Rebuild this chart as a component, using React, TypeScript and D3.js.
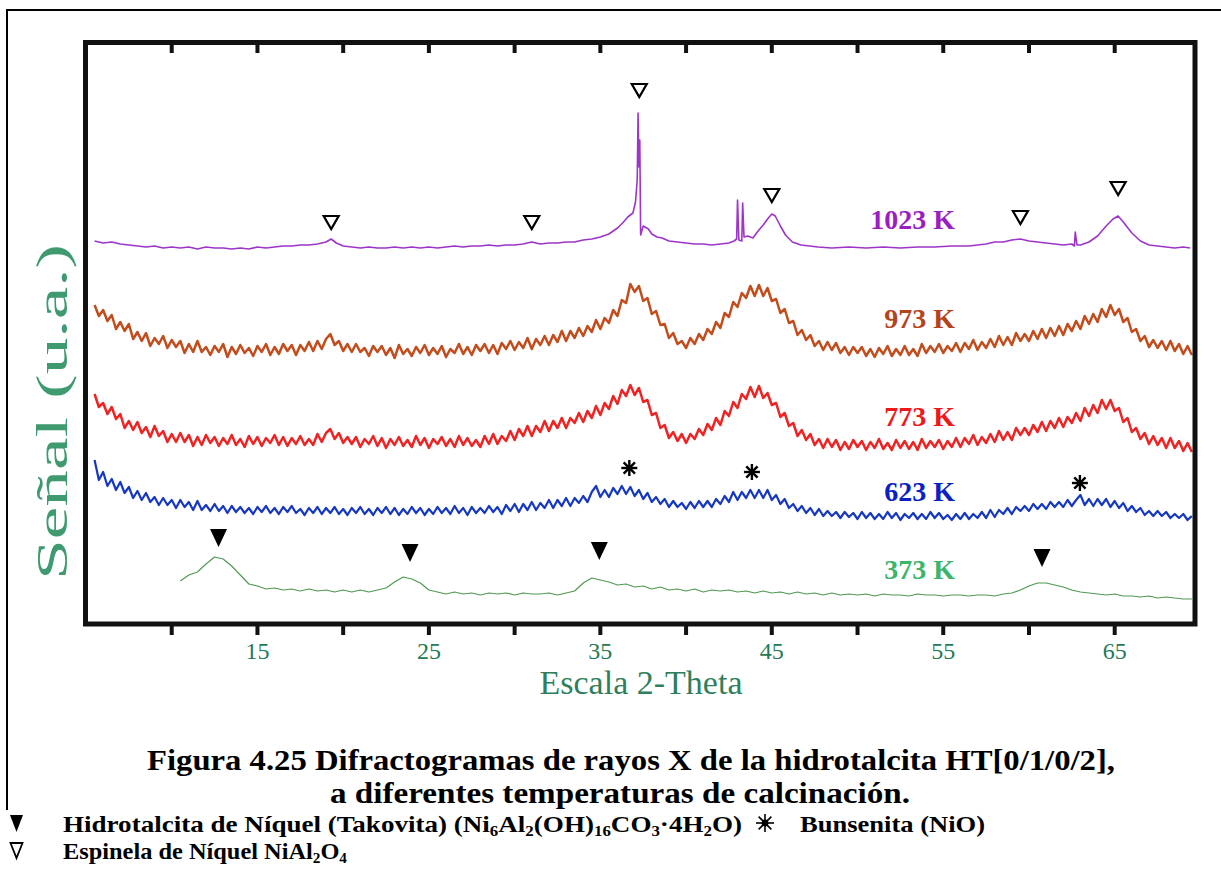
import React from "react";
import * as d3 from "d3";

const W = 1221;
const H = 870;

// 2-theta axis
const xDomain: [number, number] = [5, 69.8];
const xTicks = [10, 15, 20, 25, 30, 35, 40, 45, 50, 55, 60, 65];
const xTickLabels = [15, 25, 35, 45, 55, 65];
const yDomain: [number, number] = [0, 587];

// noisy series sampled every 0.25 deg from 5.5 deg
const NOISY_START = 5.5;
const NOISY_STEP = 0.25;

const s973 = [
  322,311,317,306,312,298,305,296,303,288,295,286,294,281,289,283,291,279,287,280,
  286,274,283,275,286,275,280,272,281,275,283,270,280,273,282,274,279,271,281,275,
  283,272,280,273,283,276,282,272,282,276,285,276,286,278,288,293,282,286,276,283,
  275,283,275,279,271,281,275,281,272,279,269,282,273,278,271,280,274,282,272,279,
  273,281,270,278,274,283,273,280,272,282,276,283,274,282,273,284,278,286,277,285,
  279,289,278,288,282,291,282,292,285,296,286,296,289,299,291,301,295,307,298,309,
  304,317,311,327,324,343,335,341,326,329,313,316,302,303,289,294,283,286,279,289,
  283,293,287,298,293,305,299,314,310,325,320,334,329,341,331,342,331,339,326,328,
  314,318,304,306,292,297,287,292,281,286,277,285,277,284,274,280,272,280,274,280,
  271,278,270,279,273,281,271,278,272,281,272,278,271,283,274,281,275,283,274,281,
  276,284,275,284,278,287,277,285,279,288,280,291,282,290,282,294,286,293,286,296,
  288,298,289,299,291,301,292,303,296,306,298,311,303,313,305,318,310,322,312,318,
  305,309,295,298,286,291,280,287,279,286,277,286,276,283,273,281,272,
];

const s773 = [
  233,220,224,213,220,208,213,199,206,197,205,194,200,190,201,191,196,185,193,185,
  194,185,192,181,190,182,192,184,190,181,189,183,192,182,188,180,191,183,190,181,
  189,184,192,182,190,181,189,183,191,182,188,182,193,185,194,198,188,194,184,190,
  183,190,180,188,183,191,181,189,179,188,182,190,181,187,180,191,182,189,179,188,
  183,190,181,188,180,191,182,189,181,187,180,191,183,193,183,191,186,196,187,198,
  191,201,191,201,195,206,196,206,199,209,199,209,204,214,205,216,209,221,212,224,
  218,231,223,237,231,242,232,239,225,227,212,214,199,202,189,195,186,193,184,193,
  188,198,192,203,197,209,202,216,211,225,219,233,228,240,230,241,229,234,222,224,
  210,214,201,204,191,197,187,193,182,188,179,188,180,187,177,185,178,187,180,186,
  177,185,179,188,178,184,177,187,179,186,178,185,177,188,179,186,180,187,178,186,
  180,189,180,189,183,192,182,190,184,193,185,196,187,195,187,199,192,199,192,202,
  195,205,196,206,199,209,200,210,204,214,206,219,211,222,214,227,218,227,216,219,
  205,209,195,199,188,194,183,191,182,189,179,189,179,186,176,184,175,
];

const s623 = [
  167,147,155,141,148,137,145,134,140,129,136,127,134,125,130,122,129,122,127,119,
  127,120,125,117,126,117,122,116,123,116,121,114,121,115,120,114,119,113,120,115,
  121,114,119,113,120,115,121,114,118,112,119,114,120,113,119,114,120,113,118,112,
  119,114,120,113,118,112,119,114,120,113,119,112,118,113,120,114,119,112,118,113,
  120,114,119,113,121,114,119,112,120,114,119,114,121,115,120,113,122,116,123,115,
  123,117,125,117,124,119,127,119,127,121,129,121,129,124,131,125,135,141,130,137,
  130,139,133,141,133,140,131,137,128,134,125,130,123,128,120,126,120,124,118,125,
  119,126,120,126,120,128,123,131,125,135,127,135,129,137,129,137,129,137,127,132,
  123,128,119,123,116,121,114,119,112,118,111,116,111,115,109,115,110,114,108,115,
  109,114,108,113,108,115,109,114,107,113,109,114,108,113,108,115,109,114,108,112,
  107,113,108,114,108,113,109,115,109,117,110,117,113,119,113,120,116,121,116,123,
  118,123,118,125,120,125,120,127,121,127,132,122,128,121,128,122,128,120,126,119,
  124,116,121,115,119,112,116,111,116,111,115,109,113,109,113,107,111,
];

// 373 K sampled every 0.5 deg from 10.5 deg
const S373_START = 10.5;
const S373_STEP = 0.5;
const s373 = [
  46,52,55,63,70,68,61,52,43,41,
  38,39,37,38,36,38,36,37,35,37,
  35,37,35,37,39,45,50,48,44,37,
  35,33,35,33,34,32,34,33,34,32,
  34,33,33,34,32,34,36,44,49,47,
  45,42,43,40,41,38,40,37,38,36,
  38,35,37,36,37,35,36,34,36,34,
  35,33,35,33,34,32,34,32,33,32,
  33,31,33,32,32,31,33,32,32,31,
  32,32,31,32,32,31,33,34,37,41,
  44,44,42,40,37,35,34,33,32,33,
  31,31,30,31,29,30,29,28,28,
];

// 1023 K: [2theta, intensity]
const s1023: [number, number][] = [
  [5.5,386],[6,384],[6.5,385],[7,383],[7.5,382],[8,381],[8.5,380],[9,381],[9.5,379],[10,380],
  [10.5,379],[11,380],[11.5,378],[12,380],[12.5,379],[13,379],[13.5,378],[14,379],[14.5,378],[15,380],
  [15.5,379],[16,380],[16.5,381],[17,381],[17.5,382],[18,382],[18.5,383],[19,385],[19.3,388],[19.6,384],
  [20,381],[20.5,380],[21,379],[21.5,380],[22,379],[22.5,379],[23,380],[23.5,379],[24,380],[24.5,379],
  [25,380],[25.5,379],[26,380],[26.5,381],[27,380],[27.5,381],[28,381],[28.5,382],[29,381],[29.5,382],
  [30,382],[30.5,383],[31,385],[31.5,383],[32,384],[32.5,384],[33,385],[33.5,385],[34,387],[34.5,388],
  [35,390],[35.5,393],[36,399],[36.3,404],[36.6,410],[36.9,414],[37.05,425],[37.15,447],[37.2,514],[37.25,460],
  [37.3,487],[37.35,392],[37.5,401],[37.8,398],[38,393],[38.3,390],[38.6,389],[39,386],[39.5,385],[40,384],
  [40.5,383],[41,383],[41.5,382],[42,383],[42.5,384],[42.8,386],[42.95,388],[43.0,427],[43.08,387],[43.25,386],
  [43.3,424],[43.38,390],[43.6,391],[43.9,389],[44.2,396],[44.5,402],[44.8,409],[45.0,413],[45.2,411],[45.5,401],
  [45.8,392],[46.2,385],[46.7,382],[47.2,381],[47.7,380],[48.5,379],[49.5,380],[50.5,379],[51.5,380],[52.5,379],
  [53.5,380],[54.5,380],[55.5,381],[56.5,381],[57,382],[57.5,383],[58,385],[58.5,385],[59,387],[59.5,388],
  [60,386],[60.5,385],[61,384],[61.5,383],[62,382],[62.5,383],[62.65,381],[62.7,395],[62.8,382],[63,382],
  [63.5,385],[64,391],[64.5,401],[64.9,408],[65.2,411],[65.5,405],[66,394],[66.5,386],[67,382],[67.5,381],
  [68,380],[68.5,379],[69,380],[69.4,379],
];

// phase markers [2theta, intensity]
const spinelMarks: [number, number][] = [[19.3,405],[31.0,405],[37.27,537],[45.0,432],[59.5,410],[65.2,439]];
const nioMarks: [number, number][] = [[36.69,159],[43.84,155],[62.97,144]];
const htMarks: [number, number][] = [[12.73,89],[23.9,74],[34.94,76],[60.76,69]];

const labels = ["1023 K", "973 K", "773 K", "623 K", "373 K"];
const labelColors = ["#9a1fc2", "#b4441c", "#ee1a1a", "#0b1fc4", "#3db46c"];
const lineColors = ["#9d35c8", "#c24c1c", "#ee2424", "#1638c0", "#4f9a52"];
const labelBaselines = [229, 328, 426, 501, 579];

const AXIS_GREEN = "#237a55";
const SERIF = "'Liberation Serif', 'Times New Roman', serif";

function Star({ cx, cy, r, w }: { cx: number; cy: number; r: number; w: number }) {
  const angs = [0, 45, 90, 135];
  return (
    <g>
      {angs.map((a) => {
        const t = (a * Math.PI) / 180;
        return (
          <line key={a} x1={cx - r * Math.cos(t)} y1={cy - r * Math.sin(t)} x2={cx + r * Math.cos(t)} y2={cy + r * Math.sin(t)} stroke="#000" strokeWidth={w} />
        );
      })}
      <circle cx={cx} cy={cy} r={r * 0.38} fill="#000" />
    </g>
  );
}

export default function App() {
  const x = d3.scaleLinear().domain(xDomain).range([86, 1197]);
  const y = d3.scaleLinear().domain(yDomain).range([627, 40]);

  const noisyPts = (arr: number[]) => arr.map((v, i) => [NOISY_START + i * NOISY_STEP, v] as [number, number]);
  const pts373 = s373.map((v, i) => [S373_START + i * S373_STEP, v] as [number, number]);

  const line = d3.line<[number, number]>().x((d) => x(d[0])).y((d) => y(d[1]));

  const curves = [
    { d: line(s1023), c: lineColors[0], w: 1.6 },
    { d: line(noisyPts(s973)), c: lineColors[1], w: 2.5 },
    { d: line(noisyPts(s773)), c: lineColors[2], w: 2.5 },
    { d: line(noisyPts(s623)), c: lineColors[3], w: 2.2 },
    { d: line(pts373), c: lineColors[4], w: 1.2 },
  ];

  const openTri = "M -7.5 -6 L 7.5 -6 L 0 7 Z";
  const fillTri = "M -8.5 -9 L 8.5 -9 L 0 9 Z";

  return (
    <svg width={W} height={H} style={{ display: "block", position: "absolute", left: 0, top: 0, background: "#fff" }} fontFamily={SERIF}>
      <rect x={0} y={0} width={W} height={H} fill="#fff" />
      {/* outer frame */}
      <line x1={7} y1={10} x2={W} y2={10} stroke="#000" strokeWidth={2} />
      <line x1={7} y1={9} x2={7} y2={810} stroke="#000" strokeWidth={2} />

      {/* curves */}
      {curves.map((c, i) => (
        <path key={i} d={c.d || ""} fill="none" stroke={c.c} strokeWidth={c.w} strokeLinejoin="round" />
      ))}

      {/* frame */}
      <rect x={85.5} y={42.5} width={1195 - 85.5} height={624 - 42.5} fill="none" stroke="#111" strokeWidth={5} />
      {xTicks.map((t) => (
        <g key={t}>
          <line x1={x(t)} x2={x(t)} y1={626} y2={635} stroke="#111" strokeWidth={4} />
          <line x1={x(t)} x2={x(t)} y1={44} y2={53} stroke="#111" strokeWidth={4} />
        </g>
      ))}
      {xTickLabels.map((t) => (
        <text key={t} x={x(t)} y={659} textAnchor="middle" fontSize={24} fill={AXIS_GREEN}>{t}</text>
      ))}
      <text x={641} y={694} textAnchor="middle" fontSize={34} fill="#2f7f5c">Escala 2-Theta</text>
      <text transform="translate(67,412) rotate(-90)" textAnchor="middle" fontSize={44} fill="#3f9a70" textLength={336} lengthAdjust="spacingAndGlyphs">Señal (u.a.)</text>

      {/* temperature labels */}
      {labels.map((l, i) => (
        <text key={l} x={955} y={labelBaselines[i]} textAnchor="end" fontWeight="bold" fontSize={28} fill={labelColors[i]}>{l}</text>
      ))}

      {/* markers */}
      {spinelMarks.map(([a, b], i) => (
        <path key={"s" + i} d={openTri} transform={`translate(${x(a)},${y(b)})`} fill="#fff" stroke="#000" strokeWidth={2.2} strokeLinejoin="miter" />
      ))}
      {nioMarks.map(([a, b], i) => (
        <Star key={"n" + i} cx={x(a)} cy={y(b)} r={8} w={2.4} />
      ))}
      {htMarks.map(([a, b], i) => (
        <path key={"h" + i} d={fillTri} transform={`translate(${x(a)},${y(b)})`} fill="#000" />
      ))}

      {/* caption */}
      <text x={631} y={770} textAnchor="middle" fontWeight="bold" fontSize={30} fill="#000" textLength={968} lengthAdjust="spacingAndGlyphs">Figura 4.25 Difractogramas de rayos X de la hidrotalcita HT[0/1/0/2],</text>
      <text x={620} y={803} textAnchor="middle" fontWeight="bold" fontSize={30} fill="#000" textLength={580} lengthAdjust="spacingAndGlyphs">a diferentes temperaturas de calcinación.</text>

      {/* legend */}
      <path d="M 10 815 L 23 815 L 16.5 832 Z" fill="#000" />
      <text x={63} y={832} fontWeight="bold" fontSize={24} fill="#000" textLength={679} lengthAdjust="spacingAndGlyphs">
        Hidrotalcita de Níquel (Takovita) (Ni<tspan fontSize={15} dy={4}>6</tspan><tspan dy={-4}>Al</tspan><tspan fontSize={15} dy={4}>2</tspan><tspan dy={-4}>(OH)</tspan><tspan fontSize={15} dy={4}>16</tspan><tspan dy={-4}>CO</tspan><tspan fontSize={15} dy={4}>3</tspan><tspan dy={-4}>·4H</tspan><tspan fontSize={15} dy={4}>2</tspan><tspan dy={-4}>O)</tspan>
      </text>
      <Star cx={765} cy={823} r={9} w={1.6} />
      <text x={800} y={832} fontWeight="bold" fontSize={24} fill="#000" textLength={185} lengthAdjust="spacingAndGlyphs">Bunsenita (NiO)</text>
      <path d="M 10.5 843 L 22.5 843 L 16.5 858 Z" fill="#fff" stroke="#000" strokeWidth={1.8} />
      <text x={63} y={859} fontWeight="bold" fontSize={24} fill="#000" textLength={284} lengthAdjust="spacingAndGlyphs">
        Espinela de Níquel NiAl<tspan fontSize={15} dy={4}>2</tspan><tspan dy={-4}>O</tspan><tspan fontSize={15} dy={4}>4</tspan>
      </text>
    </svg>
  );
}
